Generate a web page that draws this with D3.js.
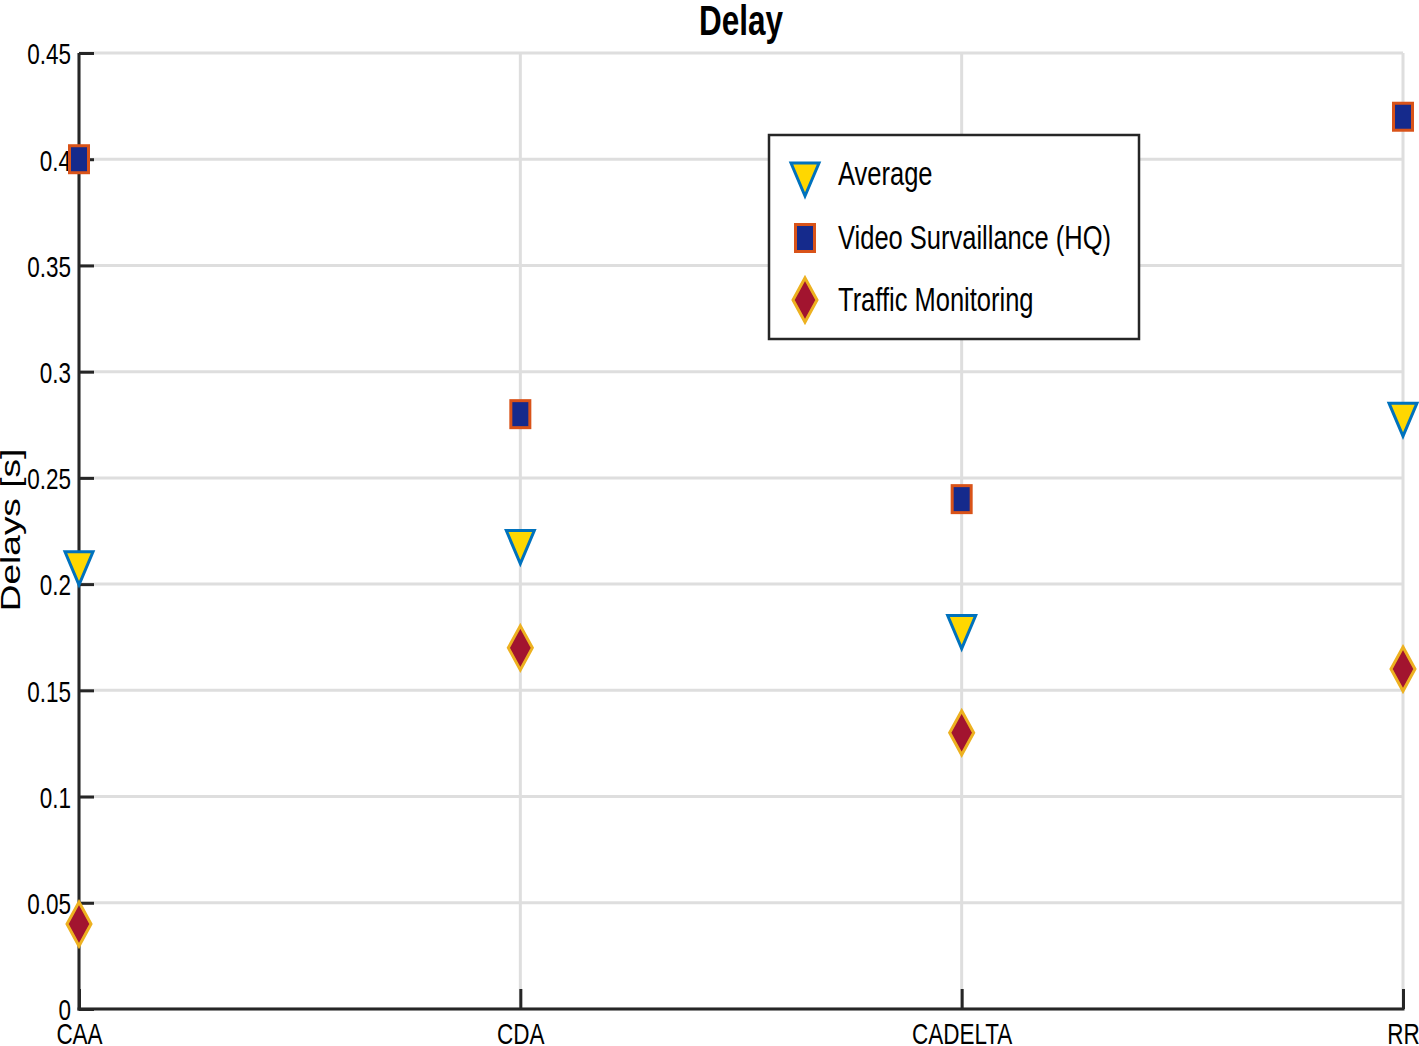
<!DOCTYPE html>
<html>
<head>
<meta charset="utf-8">
<script src="https://cdn.jsdelivr.net/npm/d3@7"></script>
<style>
  html, body { margin: 0; padding: 0; background: #fff; }
  svg { display: block; }
  text { font-family: "Liberation Sans", Arial, Helvetica, sans-serif; fill: #000; }
</style>
</head>
<body>
<svg id="chart" width="1419" height="1046"></svg>
<script>
// ---- data ----
const categories = ["CAA", "CDA", "CADELTA", "RR"];
const averageDelay = [0.21, 0.22, 0.18, 0.28];
const videoDelay = [0.40, 0.28, 0.24, 0.42];
const trafficDelay = [0.04, 0.17, 0.13, 0.16];
const yTicks = [0, 0.05, 0.1, 0.15, 0.2, 0.25, 0.3, 0.35, 0.4, 0.45];
const seriesNames = ["Average", "Video Survaillance (HQ)", "Traffic Monitoring"];

(function () {
// ---- layout ----
const plotLeft = 79, plotRight = 1403, plotTop = 53, plotBottom = 1009;
const SX = 0.75; // horizontal condensing of text
const svg = d3.select("#chart");

const x = d3.scalePoint().domain(categories).range([plotLeft, plotRight]);
const y = d3.scaleLinear().domain([0, 0.45]).range([plotBottom, plotTop]);

const gridColor = "#dedede";
const axisColor = "#262626";

// grid
const grid = svg.append("g");
grid.selectAll("line.h").data(yTicks).join("line")
  .attr("x1", plotLeft).attr("x2", plotRight)
  .attr("y1", d => y(d)).attr("y2", d => y(d))
  .attr("stroke", gridColor).attr("stroke-width", 3);
grid.selectAll("line.v").data(categories).join("line")
  .attr("x1", d => x(d)).attr("x2", d => x(d))
  .attr("y1", plotTop).attr("y2", plotBottom)
  .attr("stroke", gridColor).attr("stroke-width", 3);

// y axis
const yAxis = d3.axisLeft(y).tickValues(yTicks).tickFormat(d3.format("~g"))
  .tickSizeInner(-15).tickSizeOuter(0).tickPadding(8);
const gy = svg.append("g").attr("transform", `translate(${plotLeft},0)`).call(yAxis);
gy.select(".domain").remove();
gy.selectAll(".tick line").attr("stroke", axisColor).attr("stroke-width", 3);
gy.selectAll(".tick text")
  .attr("font-size", 30).attr("fill", "#000")
  .attr("font-family", "Liberation Sans, Arial, sans-serif")
  .attr("dy", "0.36em")
  .attr("x", -8 / SX)
  .attr("transform", `scale(${SX},1)`);

// x axis
const xAxis = d3.axisBottom(x).tickSizeInner(-20).tickSizeOuter(0).tickPadding(14);
const gx = svg.append("g").attr("transform", `translate(0,${plotBottom})`).call(xAxis);
gx.select(".domain").remove();
gx.selectAll(".tick line").attr("stroke", axisColor).attr("stroke-width", 3);
gx.selectAll(".tick text")
  .attr("font-size", 30).attr("fill", "#000")
  .attr("font-family", "Liberation Sans, Arial, sans-serif")
  .attr("transform", `scale(${SX},1)`);

// axis lines
svg.append("line").attr("x1", plotLeft).attr("x2", plotLeft).attr("y1", plotTop).attr("y2", plotBottom + 1.5)
  .attr("stroke", axisColor).attr("stroke-width", 3);
svg.append("line").attr("x1", plotLeft - 1.5).attr("x2", plotRight + 1.5).attr("y1", plotBottom).attr("y2", plotBottom)
  .attr("stroke", axisColor).attr("stroke-width", 3);

// markers
const triPath = "M-14,-11 L14,-11 L0,22 Z";
const diaPath = "M0,-22 L12,0 L0,22 L-12,0 Z";
function drawTri(g) {
  g.append("path").attr("d", triPath).attr("fill", "#ffd700")
    .attr("stroke", "#0072bd").attr("stroke-width", 3).attr("stroke-linejoin", "miter");
}
function drawSq(g) {
  g.append("rect").attr("x", -9.5).attr("y", -13.5).attr("width", 19).attr("height", 27)
    .attr("fill", "#152a8c").attr("stroke", "#d95319").attr("stroke-width", 3);
}
function drawDia(g) {
  g.append("path").attr("d", diaPath).attr("fill", "#a2142f")
    .attr("stroke", "#edb120").attr("stroke-width", 3).attr("stroke-linejoin", "miter");
}
const drawers = [drawTri, drawSq, drawDia];
const seriesVals = [averageDelay, videoDelay, trafficDelay];

const marks = svg.append("g");
seriesVals.forEach((vals, si) => {
  marks.append("g").selectAll("g").data(categories).join("g")
    .attr("transform", (d, i) => `translate(${x(d)},${y(vals[i])})`)
    .each(function () { drawers[si](d3.select(this)); });
});

// title
svg.append("text")
  .attr("transform", `translate(${(plotLeft + plotRight) / 2},35) scale(${SX},1)`)
  .attr("text-anchor", "middle").attr("font-size", 42).attr("font-weight", "bold")
  .text("Delay");

// y label
svg.append("text")
  .attr("transform", `translate(20,530) rotate(-90) scale(1,${SX})`)
  .attr("text-anchor", "middle").attr("font-size", 37).attr("fill", "#262626")
  .text("Delays [s]");

// legend
const lg = svg.append("g");
lg.append("rect").attr("x", 769).attr("y", 135).attr("width", 370).attr("height", 204)
  .attr("fill", "#fff").attr("stroke", axisColor).attr("stroke-width", 2.5);
const rowY = [174, 238, 300];
seriesNames.forEach((name, i) => {
  const g = lg.append("g").attr("transform", `translate(805,${rowY[i]})`);
  drawers[i](g);
  lg.append("text")
    .attr("transform", `translate(838,${rowY[i] + 11}) scale(${SX},1)`)
    .attr("font-size", 34).text(name);
});
})();
</script>
</body>
</html>
